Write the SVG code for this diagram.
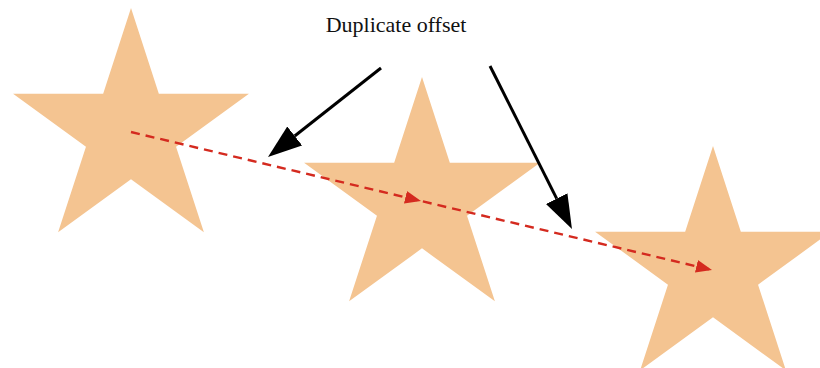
<svg xmlns="http://www.w3.org/2000/svg" width="820" height="368" viewBox="0 0 820 368">
  <style>
    .star { fill: #F4C491; }
    .offset { fill: none; stroke: #D42A1F; stroke-width: 2.4; stroke-dasharray: 9 6; }
    .pointer { fill: none; stroke: #000000; stroke-width: 3; }
    .label { font-family: "Liberation Serif", "Times New Roman", serif; font-size: 22px; fill: #111111; }
  </style>
  <defs>
    <path id="starShape" d="M0,-124 L27.84,-38.32 L117.93,-38.32 L45.04,14.64 L72.89,100.32 L0,47.36 L-72.89,100.32 L-45.04,14.64 L-117.93,-38.32 L-27.84,-38.32 Z"/>
    <marker id="redHead" markerUnits="userSpaceOnUse" markerWidth="18" markerHeight="16" refX="16" refY="8" orient="auto" viewBox="0 0 18 16">
      <path d="M0,1.5 L16,8 L0,14.5 Z" fill="#D42A1F"/>
    </marker>
    <marker id="blackHead" markerUnits="userSpaceOnUse" markerWidth="36" markerHeight="26" refX="0" refY="13" orient="auto" viewBox="0 0 36 26">
      <path d="M0,1 L34,13 L0,25 Z" fill="#000000"/>
    </marker>
  </defs>

  <g id="star1"><use href="#starShape" class="star" transform="translate(131,132)"/></g>
  <g id="star2"><use href="#starShape" class="star" transform="translate(422,201)"/></g>
  <g id="star3"><use href="#starShape" class="star" transform="translate(713,270)"/></g>

  <g id="connectors">
    <polyline class="offset" points="131,132 421,201 712,270" marker-mid="url(#redHead)" marker-end="url(#redHead)"/>
    <line class="pointer" x1="381" y1="68" x2="294.7" y2="136" marker-end="url(#blackHead)"/>
    <line class="pointer" x1="490" y1="66" x2="556.7" y2="198.6" marker-end="url(#blackHead)"/>
  </g>

  <g id="label">
    <text class="label" x="396" y="32" text-anchor="middle">Duplicate offset</text>
  </g>
</svg>
